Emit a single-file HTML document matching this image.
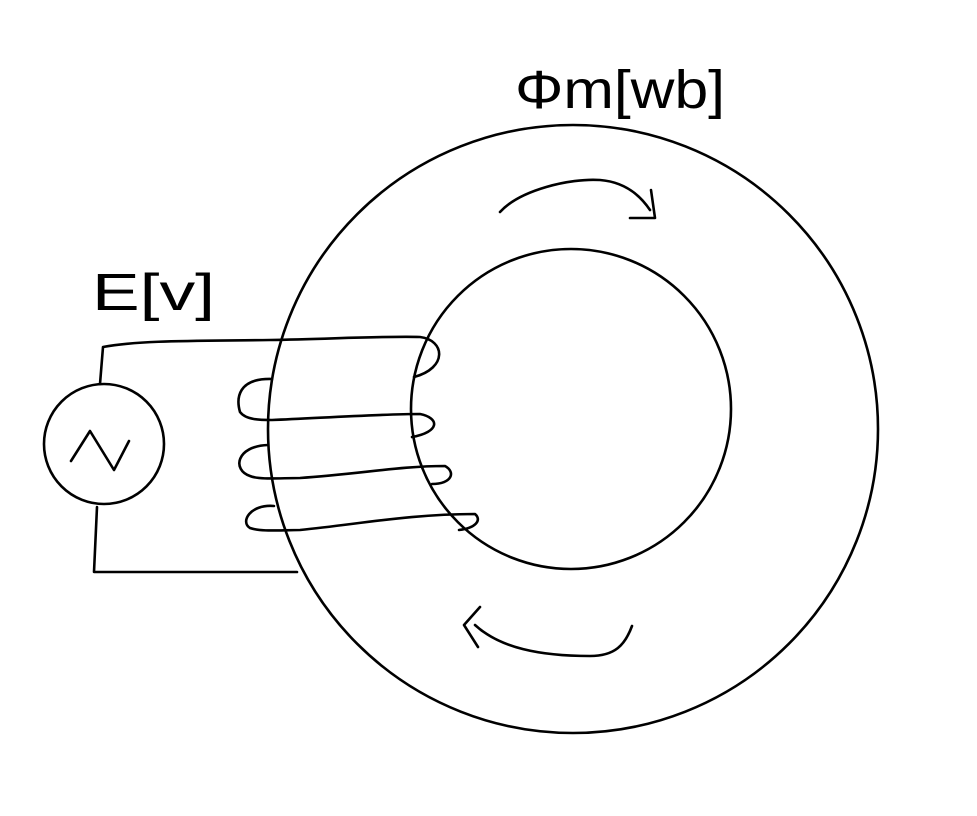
<!DOCTYPE html>
<html><head><meta charset="utf-8"><style>
html,body{margin:0;padding:0;background:#fff;width:977px;height:816px;overflow:hidden}
svg{display:block}
text{font-family:"Liberation Sans",sans-serif;fill:#000}
</style></head><body>
<svg width="977" height="816" viewBox="0 0 977 816" fill="none" stroke="#000" stroke-width="2.6" stroke-linecap="round" stroke-linejoin="round">
<ellipse cx="573" cy="429" rx="305" ry="304"/>
<circle cx="571" cy="409" r="160"/>
<circle cx="104" cy="444" r="60"/>
<path d="M71 461 L90 431 L114 470 L129 441"/>
<path d="M100 384 L103 347 C140 340 200 341 270 340 C330 339 380 336 420 337 C445 340 448 368 414 377"/>
<path d="M272 379 C238 378 236 398 240 412 C246 420 260 420 272 420 C320 418 380 414 420 414 C440 418 440 432 412 437"/>
<path d="M268 445 C236 446 232 470 250 476 C260 480 280 478 300 478 C360 474 400 466 445 466 C456 472 452 484 432 484"/>
<path d="M274 506 C250 504 240 522 250 528 C262 532 280 530 300 530 C360 524 410 514 475 514 C482 520 476 528 459 530"/>
<path d="M97 507 L94 572 L297 572"/>
<path d="M500 212 C520 190 570 178 600 180 C625 182 640 195 650 210 M651 190 L655 218 L630 218"/>
<path d="M632 626 C625 645 615 656 590 656 C540 656 500 648 475 625 M480 607 L464 625 L478 647"/>
<text x="515" y="108" font-size="54" textLength="210" lengthAdjust="spacingAndGlyphs" stroke="none">Φm[wb]</text>
<text x="92" y="310" font-size="52" textLength="123" lengthAdjust="spacingAndGlyphs" stroke="none">E[v]</text>
</svg>
</body></html>
